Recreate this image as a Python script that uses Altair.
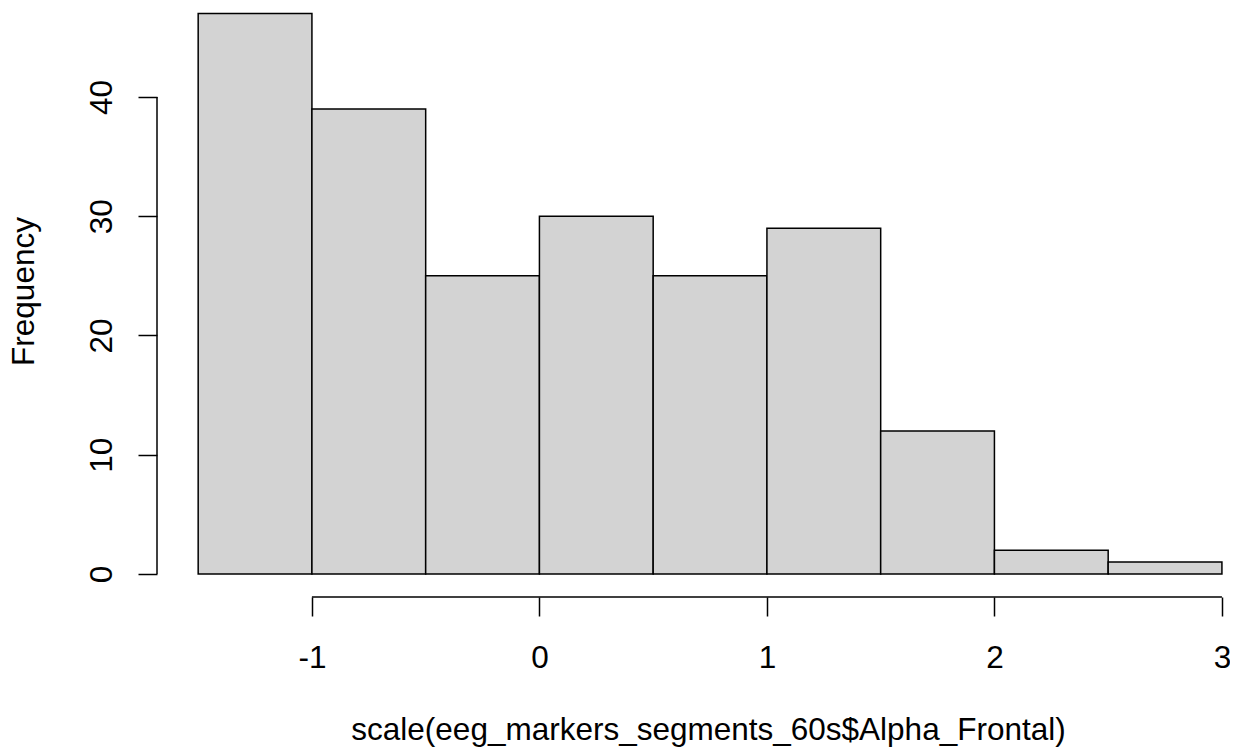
import altair as alt
import pandas as pd

# Histogram data
bin_start = [-1.5, -1.0, -0.5, 0.0, 0.5, 1.0, 1.5, 2.0, 2.5]
bin_end = [-1.0, -0.5, 0.0, 0.5, 1.0, 1.5, 2.0, 2.5, 3.0]
counts = [47, 39, 25, 30, 25, 29, 12, 2, 1]

x_ticks = [-1, 0, 1, 2, 3]
y_ticks = [0, 10, 20, 30, 40]

df = pd.DataFrame({"start": bin_start, "end": bin_end, "count": counts})

FONT = "Liberation Sans"
FS = 31.5
W, H = 1073, 589

xscale = alt.Scale(domain=[-1.681, -1.681 + W / 227.5], nice=False, zero=False)
yscale = alt.Scale(domain=[-1.93, 47.46], nice=False, zero=False)

xaxis = alt.Axis(
    values=x_ticks, domain=False, grid=False, tickColor="black", tickWidth=1.5,
    tickSize=19, labelFont=FONT, labelFontSize=FS, labelColor="black",
    labelExpr="'' + datum.value",
    labelBaseline="alphabetic", labelPadding=51, labelFlush=False,
    title="scale(eeg_markers_segments_60s$Alpha_Frontal)",
    titleFont=FONT, titleFontSize=FS, titleFontWeight="normal", titleColor="black",
    titleBaseline="alphabetic", titleAlign="center", titleX=551, titleY=142,
)
yaxis = alt.Axis(
    values=y_ticks, domain=False, grid=False, tickColor="black", tickWidth=1.5,
    tickSize=19, labelFont=FONT, labelFontSize=FS, labelColor="black",
    labelExpr="'' + datum.value",
    labelAngle=270, labelAlign="center", labelBaseline="alphabetic",
    labelPadding=27, labelFlush=False,
    title="Frequency", titleFont=FONT, titleFontSize=FS, titleFontWeight="normal",
    titleColor="black", titleAngle=270, titleAlign="center",
    titleBaseline="alphabetic", titleX=-124, titleY=283,
)

bars = alt.Chart(df).mark_rect(
    fill="#D3D3D3", stroke="black", strokeWidth=1.5
).encode(
    x=alt.X("start:Q", scale=xscale, axis=xaxis),
    x2="end:Q",
    y=alt.Y("count:Q", scale=yscale, axis=yaxis),
    y2=alt.datum(0),
)

yline = alt.Chart(pd.DataFrame({"lo": [y_ticks[0]], "hi": [y_ticks[-1]]})).mark_rule(
    color="black", strokeWidth=1.5
).encode(x=alt.value(0), y=alt.Y("lo:Q", scale=yscale), y2="hi:Q")

xline = alt.Chart(pd.DataFrame({"lo": [x_ticks[0]], "hi": [x_ticks[-1]]})).mark_rule(
    color="black", strokeWidth=1.5
).encode(y=alt.value(H), x=alt.X("lo:Q", scale=xscale), x2="hi:Q")

chart = alt.layer(bars, yline, xline).properties(
    width=W, height=H,
    autosize=alt.AutoSizeParams(type="none"),
    padding={"left": 149, "top": 0, "right": 0, "bottom": 150},
).configure(background="white", view=alt.ViewConfig(stroke=None))

chart.save("out.html", embed_options={"renderer": "svg", "actions": False})
